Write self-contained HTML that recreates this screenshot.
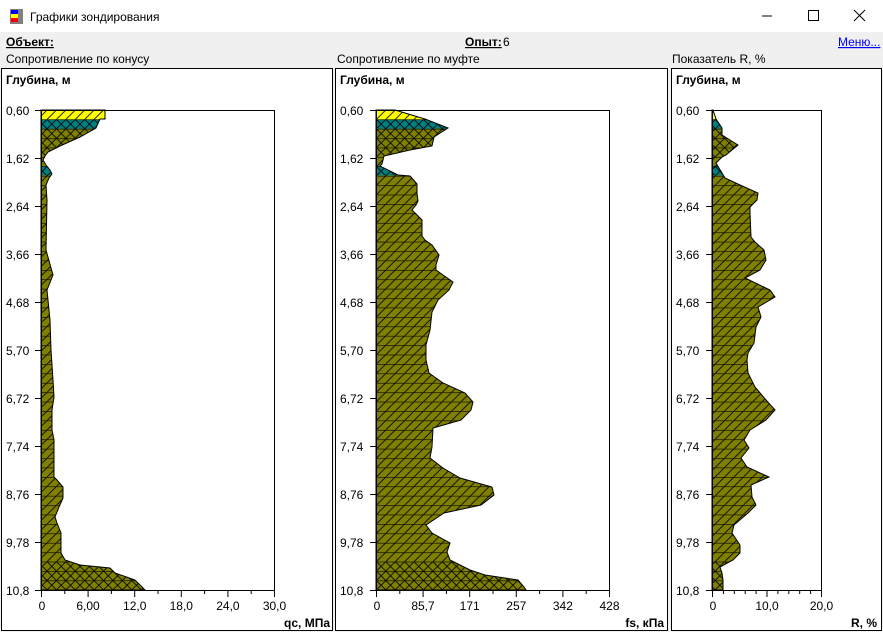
<!DOCTYPE html>
<html><head><meta charset="utf-8"><style>
html,body{margin:0;padding:0;background:#f0f0f0;}
body{width:883px;height:632px;overflow:hidden;position:relative;font-family:"Liberation Sans",Tahoma,sans-serif;}
svg{position:absolute;left:0;top:0;}
text{font-family:"Liberation Sans",sans-serif;font-size:12px;fill:#000;}
.b{font-weight:bold;}
</style></head><body>
<svg width="883" height="632" viewBox="0 0 883 632">
<defs>
<pattern id="ol" patternUnits="userSpaceOnUse" x="0" y="110" width="9.41" height="9.41">
<rect width="9.41" height="9.41" fill="#808000"/>
<line x1="0" y1="9.41" x2="9.41" y2="0" stroke="#000" stroke-width="0.8"/>
<line x1="0" y1="0" x2="9.41" y2="0" stroke="#000" stroke-width="1.2"/>
</pattern>
<pattern id="cx" patternUnits="userSpaceOnUse" x="0" y="110" width="9.41" height="9.41">
<rect width="9.41" height="9.41" fill="#808000"/>
<line x1="0" y1="9.41" x2="9.41" y2="0" stroke="#000" stroke-width="0.8"/>
<line x1="0" y1="0" x2="9.41" y2="9.41" stroke="#000" stroke-width="0.8"/>
<line x1="0" y1="0" x2="9.41" y2="0" stroke="#000" stroke-width="1.2"/>
</pattern>
<pattern id="ye" patternUnits="userSpaceOnUse" x="0" y="110" width="9.41" height="9.41">
<rect width="9.41" height="9.41" fill="#ffff00"/>
<line x1="0" y1="9.41" x2="9.41" y2="0" stroke="#000" stroke-width="0.8"/>
</pattern>
<pattern id="te" patternUnits="userSpaceOnUse" x="0" y="110" width="9.41" height="9.41">
<rect width="9.41" height="9.41" fill="#008080"/>
<line x1="0" y1="9.41" x2="9.41" y2="0" stroke="#000" stroke-width="0.8"/>
<line x1="0" y1="0" x2="9.41" y2="9.41" stroke="#000" stroke-width="0.8"/>
<line x1="0" y1="0" x2="9.41" y2="0" stroke="#000" stroke-width="1.2"/>
</pattern>
<clipPath id="c1"><polygon id="p1" points="41,110 105,110 105,119 100,119 96,128 80,137 60,146 48,152 45,156 43,160 46,165 50,170 52,174 49,178 46,185 47,200 46,250 53,275 47,290 50,320 51,350 53,380 54,397 52,410 52,430 54,440 54,453 54,477 57,480 63,487 63,498 59,507 55,517 57,523 61,533 61,553 65,560 80,565 110,568 115,573 135,580 142,587 145,590 41,590"/></clipPath>
<clipPath id="c2"><polygon points="376,110 395,110 425,119 448,128 434,137 432,146 410,150 384,156 382,164 380,166 398,175 410,176 417,184 417,193 418,201 416,205 412,210 416,214 422,220 422,236 425,240 432,245 439,255 436,265 436,270 453,282 449,290 438,300 432,312 430,330 426,345 426,360 429,373 443,383 465,393 473,402 471,410 461,420 433,428 432,447 430,458 443,468 460,478 492,487 494,495 481,505 444,513 426,525 432,533 450,543 447,552 450,560 470,570 485,575 518,580 524,587 526,590 376,590"/></clipPath>
<clipPath id="c3"><polygon points="712,110 713,110 716,119 722,128 722,135 738,145 726,155 722,157 716,163 722,173 725,178 740,185 758,193 757,200 750,207 750,213 751,237 755,242 764,250 766,260 760,270 745,278 770,290 775,297 758,307 761,317 756,327 754,343 748,353 747,360 748,373 755,387 766,400 775,410 766,420 750,430 744,440 749,448 741,458 747,467 769,477 751,485 752,497 756,505 748,513 734,525 732,533 740,545 740,553 733,560 720,567 722,573 723,580 723,590 712,590"/></clipPath>
</defs>

<!-- title bar -->
<rect x="0" y="0" width="883" height="32" fill="#fff"/>
<rect x="10" y="9" width="13" height="15" fill="#808080"/>
<rect x="11" y="10" width="7" height="4" fill="#0000ff"/>
<rect x="11" y="14" width="7" height="4" fill="#ffff00"/>
<rect x="11" y="18" width="7" height="4" fill="#ff0000"/>
<text x="30" y="21">Графики зондирования</text>
<line x1="762" y1="16" x2="772" y2="16" stroke="#000"/>
<rect x="808.5" y="10.5" width="10" height="10" fill="none" stroke="#000"/>
<line x1="854" y1="10" x2="865" y2="21" stroke="#000"/><line x1="865" y1="10" x2="854" y2="21" stroke="#000"/>

<text x="6" y="46" class="b" text-decoration="underline">Объект:</text>
<text x="465" y="46" class="b" text-decoration="underline">Опыт:</text><text x="503" y="46">6</text>
<text x="838" y="46" fill="#0000ff" style="fill:#0000ff" text-decoration="underline">Меню...</text>
<text x="6" y="63">Сопротивление по конусу</text>
<text x="337" y="63">Сопротивление по муфте</text>
<text x="672" y="63">Показатель R, %</text>

<!-- frames -->
<rect x="1.5" y="68.5" width="331" height="562" fill="#fff" stroke="#000"/>
<rect x="335.5" y="68.5" width="332" height="562" fill="#fff" stroke="#000"/>
<rect x="671.5" y="68.5" width="210" height="562" fill="#fff" stroke="#000"/>

<g class="b">
<text x="6" y="84" class="b">Глубина, м</text>
<text x="340" y="84" class="b">Глубина, м</text>
<text x="676" y="84" class="b">Глубина, м</text>
<text x="330" y="627" class="b" text-anchor="end">qc, МПа</text>
<text x="664" y="627" class="b" text-anchor="end">fs, кПа</text>
<text x="877" y="627" class="b" text-anchor="end">R, %</text>
</g>

<!-- panel 1 fills -->
<g clip-path="url(#c1)">
<rect x="41" y="110" width="240" height="480" fill="url(#ol)"/>
<rect x="41" y="128" width="240" height="29" fill="url(#cx)"/>
<rect x="41" y="562" width="240" height="28" fill="url(#cx)"/>
<rect x="41" y="110" width="240" height="9.4" fill="url(#ye)"/>
<rect x="41" y="119.4" width="240" height="9.4" fill="url(#te)"/>
<rect x="41" y="166" width="240" height="9.4" fill="url(#te)"/>
</g>
<polygon points="41,110 105,110 105,119 100,119 96,128 80,137 60,146 48,152 45,156 43,160 46,165 50,170 52,174 49,178 46,185 47,200 46,250 53,275 47,290 50,320 51,350 53,380 54,397 52,410 52,430 54,440 54,453 54,477 57,480 63,487 63,498 59,507 55,517 57,523 61,533 61,553 65,560 80,565 110,568 115,573 135,580 142,587 145,590 41,590" fill="none" stroke="#000" stroke-width="1"/>

<g clip-path="url(#c2)">
<rect x="376" y="110" width="240" height="480" fill="url(#ol)"/>
<rect x="376" y="128" width="240" height="29" fill="url(#cx)"/>
<rect x="376" y="562" width="240" height="28" fill="url(#cx)"/>
<rect x="376" y="110" width="240" height="9.4" fill="url(#ye)"/>
<rect x="376" y="119.4" width="240" height="9.4" fill="url(#te)"/>
<rect x="376" y="166" width="240" height="9.4" fill="url(#te)"/>
</g>
<polygon points="376,110 395,110 425,119 448,128 434,137 432,146 410,150 384,156 382,164 380,166 398,175 410,176 417,184 417,193 418,201 416,205 412,210 416,214 422,220 422,236 425,240 432,245 439,255 436,265 436,270 453,282 449,290 438,300 432,312 430,330 426,345 426,360 429,373 443,383 465,393 473,402 471,410 461,420 433,428 432,447 430,458 443,468 460,478 492,487 494,495 481,505 444,513 426,525 432,533 450,543 447,552 450,560 470,570 485,575 518,580 524,587 526,590 376,590" fill="none" stroke="#000"/>

<g clip-path="url(#c3)">
<rect x="712" y="110" width="120" height="480" fill="url(#ol)"/>
<rect x="712" y="128" width="120" height="29" fill="url(#cx)"/>
<rect x="712" y="562" width="120" height="28" fill="url(#cx)"/>
<rect x="712" y="110" width="120" height="9.4" fill="url(#ye)"/>
<rect x="712" y="119.4" width="120" height="9.4" fill="url(#te)"/>
<rect x="712" y="166" width="120" height="9.4" fill="url(#te)"/>
</g>
<polygon points="712,110 713,110 716,119 722,128 722,135 738,145 726,155 722,157 716,163 722,173 725,178 740,185 758,193 757,200 750,207 750,213 751,237 755,242 764,250 766,260 760,270 745,278 770,290 775,297 758,307 761,317 756,327 754,343 748,353 747,360 748,373 755,387 766,400 775,410 766,420 750,430 744,440 749,448 741,458 747,467 769,477 751,485 752,497 756,505 748,513 734,525 732,533 740,545 740,553 733,560 720,567 722,573 723,580 723,590 712,590" fill="none" stroke="#000"/>

<!-- plot boxes -->
<g fill="none" stroke="#000">
<rect x="41.5" y="110.5" width="233" height="480"/>
<rect x="376.5" y="110.5" width="233" height="480"/>
<rect x="712.5" y="110.5" width="109" height="480"/>
</g>

<!-- y ticks & labels -->
<g stroke="#000">
<path d="M35 110.5H41M35 158.5H41M35 206.5H41M35 254.5H41M35 302.5H41M35 350.5H41M35 398.5H41M35 446.5H41M35 494.5H41M35 542.5H41M35 590.5H41"/>
<path d="M370 110.5H376M370 158.5H376M370 206.5H376M370 254.5H376M370 302.5H376M370 350.5H376M370 398.5H376M370 446.5H376M370 494.5H376M370 542.5H376M370 590.5H376"/>
<path d="M706 110.5H712M706 158.5H712M706 206.5H712M706 254.5H712M706 302.5H712M706 350.5H712M706 398.5H712M706 446.5H712M706 494.5H712M706 542.5H712M706 590.5H712"/>
</g>
<g>
<text x="6" y="115">0,60</text><text x="6" y="163">1,62</text><text x="6" y="211">2,64</text><text x="6" y="259">3,66</text><text x="6" y="307">4,68</text><text x="6" y="355">5,70</text><text x="6" y="403">6,72</text><text x="6" y="451">7,74</text><text x="6" y="499">8,76</text><text x="6" y="547">9,78</text><text x="6" y="595">10,8</text>
<text x="340" y="115">0,60</text><text x="340" y="163">1,62</text><text x="340" y="211">2,64</text><text x="340" y="259">3,66</text><text x="340" y="307">4,68</text><text x="340" y="355">5,70</text><text x="340" y="403">6,72</text><text x="340" y="451">7,74</text><text x="340" y="499">8,76</text><text x="340" y="547">9,78</text><text x="340" y="595">10,8</text>
<text x="676" y="115">0,60</text><text x="676" y="163">1,62</text><text x="676" y="211">2,64</text><text x="676" y="259">3,66</text><text x="676" y="307">4,68</text><text x="676" y="355">5,70</text><text x="676" y="403">6,72</text><text x="676" y="451">7,74</text><text x="676" y="499">8,76</text><text x="676" y="547">9,78</text><text x="676" y="595">10,8</text>
</g>

<!-- x ticks -->
<g stroke="#000">
<path d="M41.5 590V597M64.8 590V594M88.1 590V597M111.4 590V594M134.7 590V597M158 590V594M181.3 590V597M204.6 590V594M227.9 590V597M251.2 590V594M274.5 590V597"/>
<path d="M376.5 590V597M399.8 590V594M423.1 590V597M446.4 590V594M469.7 590V597M493 590V594M516.3 590V597M539.6 590V594M562.9 590V597M586.2 590V594M609.5 590V597"/>
<path d="M712.5 590V597M723.4 590V594M734.3 590V594M745.2 590V594M756.1 590V594M767 590V597M777.9 590V594M788.8 590V594M799.7 590V594M810.6 590V594M821.5 590V597"/>
</g>
<g text-anchor="middle">
<text x="42" y="610">0</text><text x="88" y="610">6,00</text><text x="134.7" y="610">12,0</text><text x="181.3" y="610">18,0</text><text x="227.9" y="610">24,0</text><text x="274.5" y="610">30,0</text>
<text x="377" y="610">0</text><text x="423" y="610">85,7</text><text x="469.7" y="610">171</text><text x="516.3" y="610">257</text><text x="562.9" y="610">342</text><text x="609.5" y="610">428</text>
<text x="713" y="610">0</text><text x="767" y="610">10,0</text><text x="821.5" y="610">20,0</text>
</g>
</svg>
</body></html>
